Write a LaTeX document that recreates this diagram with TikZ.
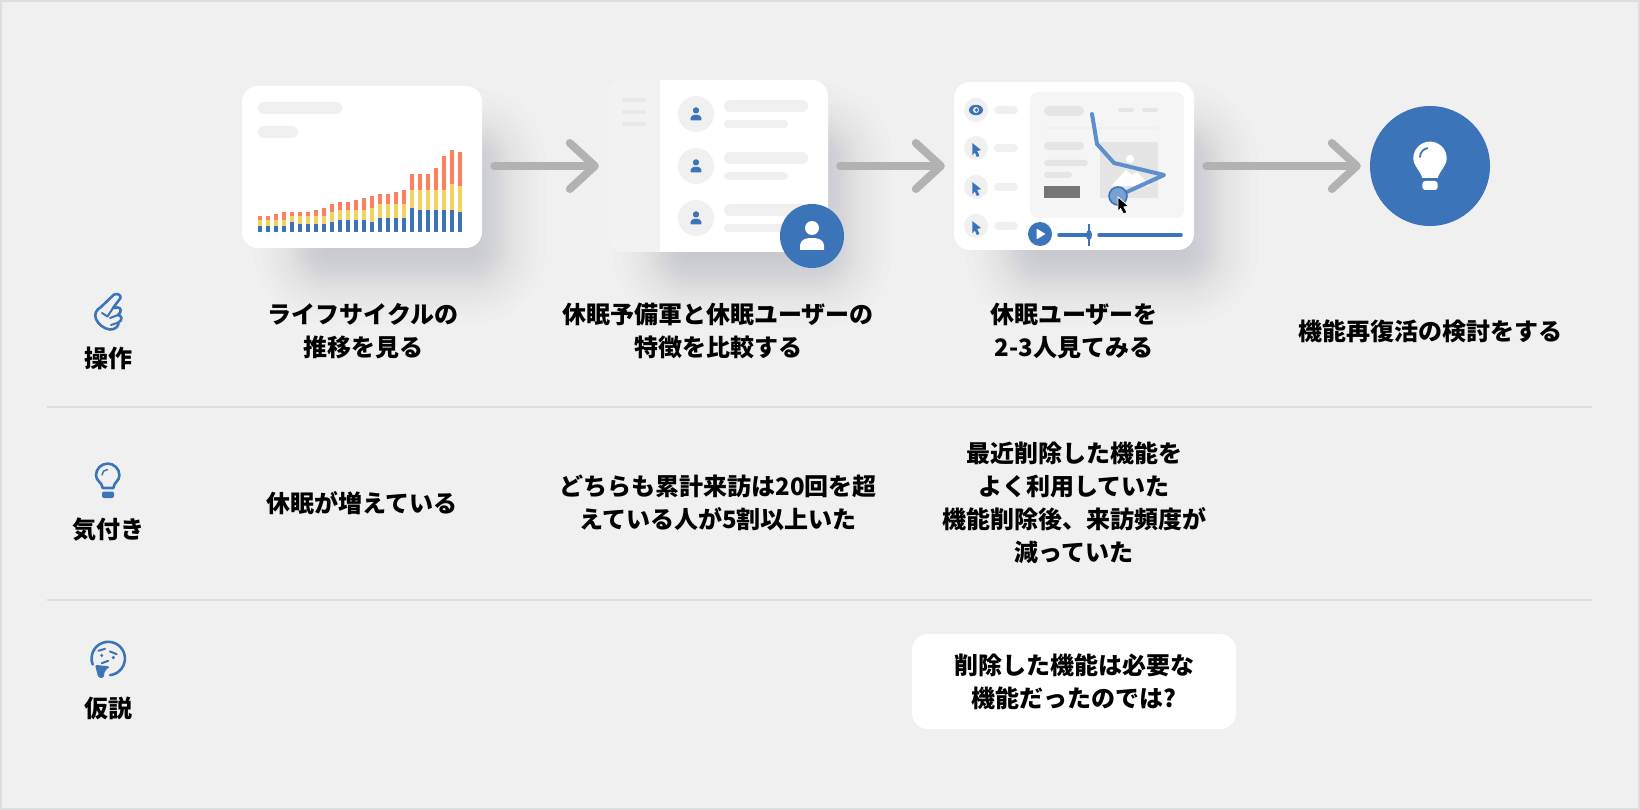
\documentclass[tikz,border=0pt]{standalone}
\usepackage{fontspec}
\setmainfont{Noto Sans CJK JP}
\usetikzlibrary{arrows.meta}
\usetikzlibrary{positioning}
\definecolor{fond}{HTML}{F0F0F0}
\definecolor{bleu}{HTML}{3B74B9}
\definecolor{bleuclair}{HTML}{5F8FCB}
\definecolor{orange}{HTML}{FF7F5F}
\definecolor{jaune}{HTML}{F0D45C}
\definecolor{trait}{HTML}{B2B2B2}
\definecolor{ombre}{HTML}{A0A2AC}
\tikzstyle{card}=[
        draw=none,
        rectangle,
        rounded corners=16pt,
        fill=white,
        inner sep=0pt
]
\tikzstyle{label}=[align=center,font=\bfseries\fontsize{24}{33}\selectfont,text=black]
\tikzstyle{rowname}=[align=center,font=\bfseries\fontsize{24}{28}\selectfont,text=black]
\tikzstyle{pill}=[rounded corners=3pt,fill=fond]
\tikzstyle{pilldark}=[rounded corners=3pt,fill=black!10]
\tikzstyle{suite}=[-{Straight Barb[length=25pt,width=46pt,line width=8pt,round]},draw=trait,line width=8pt,line cap=round,shorten <=12pt,shorten >=9pt]
\tikzstyle{sep}=[draw=black!13,line width=1.3pt]
\tikzstyle{icon}=[draw=bleu,line width=2.6pt,line cap=round,line join=round]
\newcommand{\softshadow}[4]{%
  \foreach \s [evaluate=\s as \r using 24+\s] in {-20,-17,-14,-12,-10,-8,-6,-4,-2,0,2,4,6,8,11,14,17,20,24,28,33,38,44,52}{
    \fill[ombre,opacity=.02,rounded corners=\r pt] (#1-\s,#2-\s) rectangle (#3+\s,#4+\s);
  }
}
\newcommand{\person}[4]{%
  \begin{scope}[shift={(#1,#2)},scale=#3]
    \fill[#4] (0,-4) circle (3.5);
    \fill[#4,rounded corners=.6pt] (-6,7) -- (-6,5) .. controls (-6,2.5) and (-3.5,1.1) .. (-1.5,1.1) -- (1.5,1.1) .. controls (3.5,1.1) and (6,2.5) .. (6,5) -- (6,7) -- cycle;
  \end{scope}
}
\begin{document}
\begin{tikzpicture}[x=1pt,y=-1pt]
\useasboundingbox (0,0) rectangle (1640,810);
\fill[fond] (0,0) rectangle (1640,810);
\draw[black!13,line width=2pt] (1,1) rectangle (1639,809);
%ombres
\softshadow{305}{140}{494}{272}
\softshadow{665}{135}{840}{276}
\softshadow{1017}{135}{1206}{274}
%cartes
\node[card,minimum width=240pt,minimum height=162pt] (chart) at (362,167) {};
\node[card,minimum width=220pt,minimum height=172pt] (users) at (718,166) {};
\node[card,minimum width=240pt,minimum height=168pt] (replay) at (1074,166) {};
\node[circle,fill=bleu,minimum size=120pt,inner sep=0pt] (idea) at (1430,166) {};
%fleches
\draw[suite] (chart.east|-users.west) -- (users.west);
\draw[suite] (users.east) -- (replay.west);
\draw[suite] (replay.east) -- (idea.west);
%graphique
\fill[pill,rounded corners=6pt] (258,102) rectangle (342,114);
\fill[pill,rounded corners=6pt] (258,126) rectangle (298,138);
\foreach \n/\b/\y/\o in {0/6/12/16,1/6/12/16,2/6/12/18,3/6/12/20,4/10/16/20,5/8/16/20,6/8/16/20,7/8/16/22,8/8/16/24,9/10/20/28,10/12/22/30,11/12/22/30,12/12/22/32,13/12/22/34,14/10/24/36,15/14/28/38,16/14/28/38,17/14/28/40,18/14/28/42,19/24/42/58,20/22/42/58,21/22/42/58,22/22/42/64,23/22/42/76,24/22/48/82,25/20/46/80}{
  \fill[orange] (258+8*\n,232-\o) rectangle (262+8*\n,232-\y);
  \fill[jaune] (258+8*\n,232-\y) rectangle (262+8*\n,232-\b);
  \fill[bleu] (258+8*\n,232-\b) rectangle (262+8*\n,232);
}
%utilisateurs
\fill[black!5,rounded corners=16pt] (608,80) -- (676,80) -- (676,252) -- (608,252) -- cycle;
\fill[white] (660,80) rectangle (690,252);
\foreach \y in {100,112,124}{
  \fill[black!9,rounded corners=2pt] (622,\y-2) rectangle (646,\y+2);
}
\foreach \y in {114,166,218}{
  \fill[fond] (696,\y) circle (18);
  \person{696}{\y}{.9}{bleu}
  \fill[pill,rounded corners=6pt] (724,\y-14) rectangle (808,\y-2);
  \fill[pill,rounded corners=4pt] (724,\y+6) rectangle (788,\y+14);
}
\node[circle,fill=bleu,minimum size=64pt,inner sep=0pt] (moi) at (812,236) {};
\person{812}{236}{2}{white}
%replay
\fill[black!4,rounded corners=8pt] (1030,92) rectangle (1184,218);
\foreach \y in {110,148,187,226}{
  \fill[fond] (976,\y) circle (12);
  \fill[pill,rounded corners=4pt] (994,\y-4) rectangle (1018,\y+4);
}
\fill[bleu] (976,110) ellipse (7 and 5.2);
\fill[fond] (976,110) circle (3);
\fill[bleu] (976.5,110) circle (1.8);
\foreach \y in {148,187,226}{
  \fill[bleu,shift={(0,\y-148)}] (972.3,143) -- (981,150) -- (977.2,151) -- (979.4,156) -- (976.8,157) -- (974.8,152.4) -- (972.3,155.4) -- cycle;
}
\fill[pilldark,rounded corners=5pt] (1044,106) rectangle (1084,116);
\fill[pilldark,rounded corners=2pt] (1118,108) rectangle (1134,112);
\fill[pilldark,rounded corners=2pt] (1142,108) rectangle (1158,112);
\fill[black!6] (1044,127.5) rectangle (1158,129);
\fill[pilldark,rounded corners=4pt] (1044,142) rectangle (1084,150);
\fill[pilldark,rounded corners=3pt] (1044,160) rectangle (1088,166);
\fill[pilldark,rounded corners=3pt] (1044,172) rectangle (1072,178);
\fill[black!54] (1044,186) rectangle (1080,198);
\fill[black!10] (1100,142) rectangle (1158,198);
\fill[white] (1130,159) circle (4);
\fill[white] (1111,186) -- (1126,170) -- (1132,175) -- (1137,172) -- (1150,186) -- cycle;
\draw[bleuclair,line width=4pt,line join=round,line cap=round] (1092,114) -- (1097,144) -- (1114,163) -- (1164,175) -- (1118,196);
\fill[bleuclair!85!white,draw=bleu,line width=1.6pt] (1118,196) circle (9);
\fill[black,draw=white,line width=.8pt] (1118,197) -- (1128.5,206) -- (1124,207) -- (1127,212.5) -- (1123.5,214) -- (1120.5,208.5) -- (1118,212) -- cycle;
\node[circle,fill=bleu,minimum size=24pt,inner sep=0pt] (play) at (1040,234) {};
\fill[white,rounded corners=.8pt] (1036.5,228.5) -- (1045.5,234) -- (1036.5,239.5) -- cycle;
\draw[bleu,line width=3.5pt,line cap=round] (1059,235) -- (1089,235);
\draw[bleu,line width=3.5pt,line cap=round] (1099,235) -- (1181,235);
\draw[bleu,line width=2pt] (1089,224) -- (1089,246);
\fill[bleu] (1089,235) ellipse (3 and 5);
%ampoule
\fill[white] (1422.3,178) .. controls (1420,170) and (1413.3,166) .. (1413.3,158.3) arc (180:360:16.7) .. controls (1446.7,166) and (1440,170) .. (1437.7,178) -- cycle;
\fill[white,rounded corners=3pt] (1422.3,181) -- (1437.7,181) -- (1437.7,190) -- (1422.3,190) -- cycle;
\draw[bleu,line width=1.8pt,line cap=round] (1420,157) arc (180:260:9);
%textes
\node[label] (t1) at (363,331) {ライフサイクルの\\推移を見る};
\node[label] (t2) at (718,331) {休眠予備軍と休眠ユーザーの\\特徴を比較する};
\node[label] (t3) at (1074,331) {休眠ユーザーを\\2-3人見てみる};
\node[label] (t4) at (1430,331) {機能再復活の検討をする};
\node[label] (k1) at (362,503) {休眠が増えている};
\node[label] (k2) at (718,503) {どちらも累計来訪は20回を超\\えている人が5割以上いた};
\node[label] (k3) at (1074,503) {最近削除した機能を\\よく利用していた\\機能削除後、来訪頻度が\\減っていた};
\node[card,minimum width=324pt,minimum height=95pt] (kasetsu) at (1074,681.5) {};
\node[label] (h1) at (kasetsu) {削除した機能は必要な\\機能だったのでは?};
\node[rowname] (r1) at (108,358) {操作};
\node[rowname] (r2) at (108,529.5) {気付き};
\node[rowname] (r3) at (108,708) {仮説};
\draw[sep] (47,407) -- (1592,407);
\draw[sep] (47,600) -- (1592,600);
%icones
\draw[icon] (101,307) -- (113.5,295) .. controls (116,292.8) and (121.5,294.5) .. (120.5,298) -- (113,308) -- (118,307.5) .. controls (121,307.5) and (122,312) .. (118,315) .. controls (122,315.5) and (123,320) .. (118.5,322.5) .. controls (119,326) and (115,329.8) .. (110,329.5) .. controls (104,329) and (98,324) .. (96,319) .. controls (94,314) and (96,310) .. (101,307) -- cycle;
\draw[icon,line width=2pt] (102,313) -- (107.5,316.5) -- (113,308);
\draw[icon,line width=2pt] (110,318) -- (118,315);
\draw[icon,line width=2pt] (111,325) -- (118.5,322.5);
\begin{scope}[yshift=-1pt]
\draw[icon] (102.7,487) .. controls (102,481) and (96,480) .. (96,474.3) arc (180:360:11.7) .. controls (119.4,480) and (114,481) .. (113.3,487) -- cycle;
\draw[icon,line width=1.5pt] (102,474) arc (180:270:5.5);
\end{scope}
\fill[bleu,rounded corners=2pt] (102,491.5) -- (114,491.5) -- (114,498) -- (102,498) -- cycle;
\begin{scope}[yshift=-1.5pt]
\draw[icon] (92.7,663) arc (159:444:16.7);
\draw[icon,line width=2pt] (98.3,649.3) -- (105,647.3);
\draw[icon,line width=2pt] (110,650) -- (116.7,652.7);
\fill[bleu] (101.7,654) circle (1.6);
\fill[bleu] (113.3,656) circle (1.8);
\draw[icon,line width=2pt] (101.7,661.7) -- (108.3,659.3);
\fill[bleu,rounded corners=1.5pt] (95,663.3) -- (110,665) -- (105,669.3) -- (103.3,676.7) -- (98.3,676) -- cycle;
\end{scope}
\end{tikzpicture}
\end{document}
